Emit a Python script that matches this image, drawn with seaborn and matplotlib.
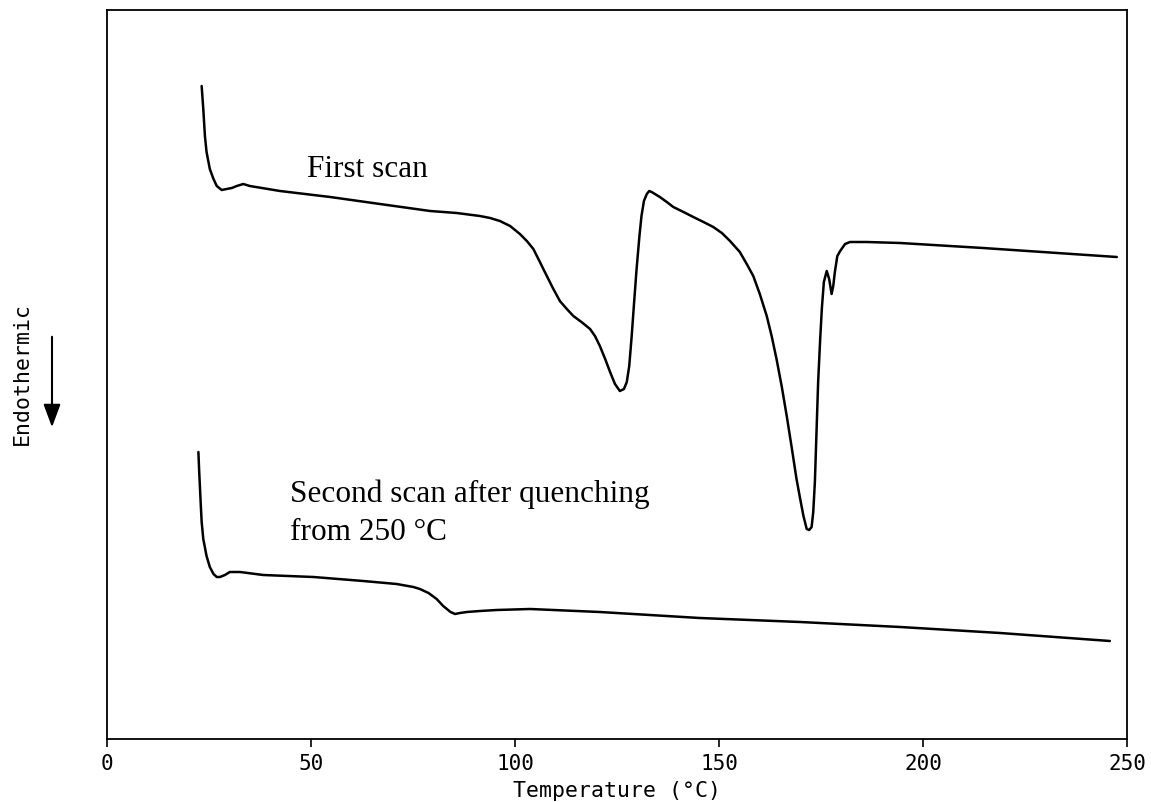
import matplotlib
matplotlib.use("Agg")
import matplotlib.pyplot as plt
import seaborn as sns
import pandas as pd
from matplotlib.patches import FancyArrowPatch

# ---- data (temperature in °C, heat flow in arbitrary units, endothermic down) ----
first_T = [23.2, 23.6, 24.0, 24.4, 25.2, 26.1, 26.9, 28.1, 29.3, 30.6, 31.8, 32.6, 33.4,
           34.2, 35.0, 42.4, 54.7, 66.9, 79.2, 85.7,
           91.4, 93.9, 96.3, 98.8, 101.2, 102.9, 104.5, 106.1, 107.8, 109.4, 111.0, 112.7,
           114.3, 116.3, 118.4, 119.6, 120.8, 122.1, 123.3, 124.5, 125.7, 126.7, 127.4,
           128.0, 128.6, 129.2, 129.8, 130.5, 131.0, 131.6, 132.3, 132.9, 133.5, 134.3,
           135.5, 137.2, 138.8, 141.3, 143.7, 146.2, 148.6, 150.7, 152.7,
           155.1, 156.8, 158.4, 160.0, 161.7, 162.9, 164.1, 165.4, 166.6, 167.8, 169.0,
           169.9, 170.7, 171.5, 172.1, 172.7, 173.1, 173.5, 173.9, 174.3, 174.8, 175.2,
           175.7, 176.4, 177.0, 177.6, 178.0, 178.4, 179.0, 179.7, 180.9, 182.1, 186.2,
           194.4, 214.7, 247.5]
first_hf = [653, 630, 603, 587, 570, 560, 553, 549, 550, 551, 553, 554, 555,
            554, 553, 548, 542, 535, 528, 526,
            523, 521, 518, 513, 505, 498, 490, 477, 463, 450, 438, 430,
            423, 417, 410, 403, 393, 380, 367, 355, 348, 350, 357,
            373, 403, 437, 470, 503, 523, 538, 545, 548, 547, 545,
            542, 537, 532, 527, 522, 517, 512, 506, 498,
            487, 475, 463, 445, 423, 403, 380, 352, 323, 292, 260,
            240, 223, 210, 209, 212, 227, 257, 307, 357, 400, 430,
            457, 468, 460, 445, 453, 467, 483, 488, 495, 497, 497,
            496, 491, 482]

second_T = [22.4, 22.6, 23.0, 23.2, 23.6, 24.4, 25.2, 26.1, 26.9, 27.7, 28.9, 30.1,
            31.4, 32.6, 38.3, 50.6, 62.8, 71.0, 75.1, 76.7, 78.8, 80.8, 82.4, 83.3,
            84.2, 85.3, 86.5, 88.2, 91.4, 95.5, 103.7, 120.8, 145.3, 169.9, 194.4,
            218.9, 245.8]
second_hf = [287, 267, 233, 217, 200, 183, 172, 165, 162, 162, 164, 167,
             167, 167, 164, 162, 158, 155, 152, 150, 146, 140, 133, 130,
             127, 125, 126, 127, 128, 129, 130, 127, 121, 117, 112,
             106, 98]

x_ticks = [0, 50, 100, 150, 200, 250]
x_label = "Temperature (°C)"
y_label = "Endothermic"
label_first = "First scan"
label_second = "Second scan after quenching\nfrom 250 °C"

df1 = pd.DataFrame({"T": first_T, "hf": first_hf})
df2 = pd.DataFrame({"T": second_T, "hf": second_hf})

sns.set_style("ticks")
plt.rcParams["font.family"] = ["DejaVu Sans Mono"]
plt.rcParams["text.color"] = "black"
plt.rcParams["axes.labelcolor"] = "black"

fig = plt.figure(figsize=(11.51, 8.03), dpi=100)
ax = fig.add_axes([107 / 1151, 63 / 803, (1127 - 107) / 1151, (740 - 11) / 803])

sns.lineplot(data=df1, x="T", y="hf", sort=False, estimator=None, color="black",
             linewidth=1.8, ax=ax)
sns.lineplot(data=df2, x="T", y="hf", sort=False, estimator=None, color="black",
             linewidth=1.8, ax=ax)
for ln in ax.lines:
    ln.set_solid_joinstyle("round")
    ln.set_solid_capstyle("round")

ax.set_xlim(0, 250)
ax.set_ylim(0, 729)
ax.set_xticks(x_ticks)
ax.set_yticks([])
ax.set_xlabel(x_label, fontsize=15.5, labelpad=5, color="black")
ax.set_ylabel("")
ax.tick_params(axis="x", direction="out", length=6, width=1.2, labelsize=15, pad=4,
               color="black", labelcolor="black")
for s in ax.spines.values():
    s.set_visible(True)
    s.set_color("black")
    s.set_linewidth(1.3)

ax.text(49.0, 563, label_first, family=["Liberation Serif", "DejaVu Serif"],
        fontsize=22.5, ha="left", va="baseline", color="black")
ax.text(44.9, 200, label_second, family=["Liberation Serif", "DejaVu Serif"],
        fontsize=22.5, ha="left", va="baseline", color="black", linespacing=1.42)

fig.text(21.5 / 1151, 1 - 374 / 803, y_label, rotation=90, ha="center", va="center",
         fontsize=15.5, color="black")
arrow = FancyArrowPatch((52, 803 - 335), (52, 803 - 431), transform=None,
                        arrowstyle="-|>,head_length=7,head_width=2.6",
                        color="black", linewidth=1.5, mutation_scale=2)
fig.patches.append(arrow)

fig.savefig("out.png", dpi=100, facecolor="white")
